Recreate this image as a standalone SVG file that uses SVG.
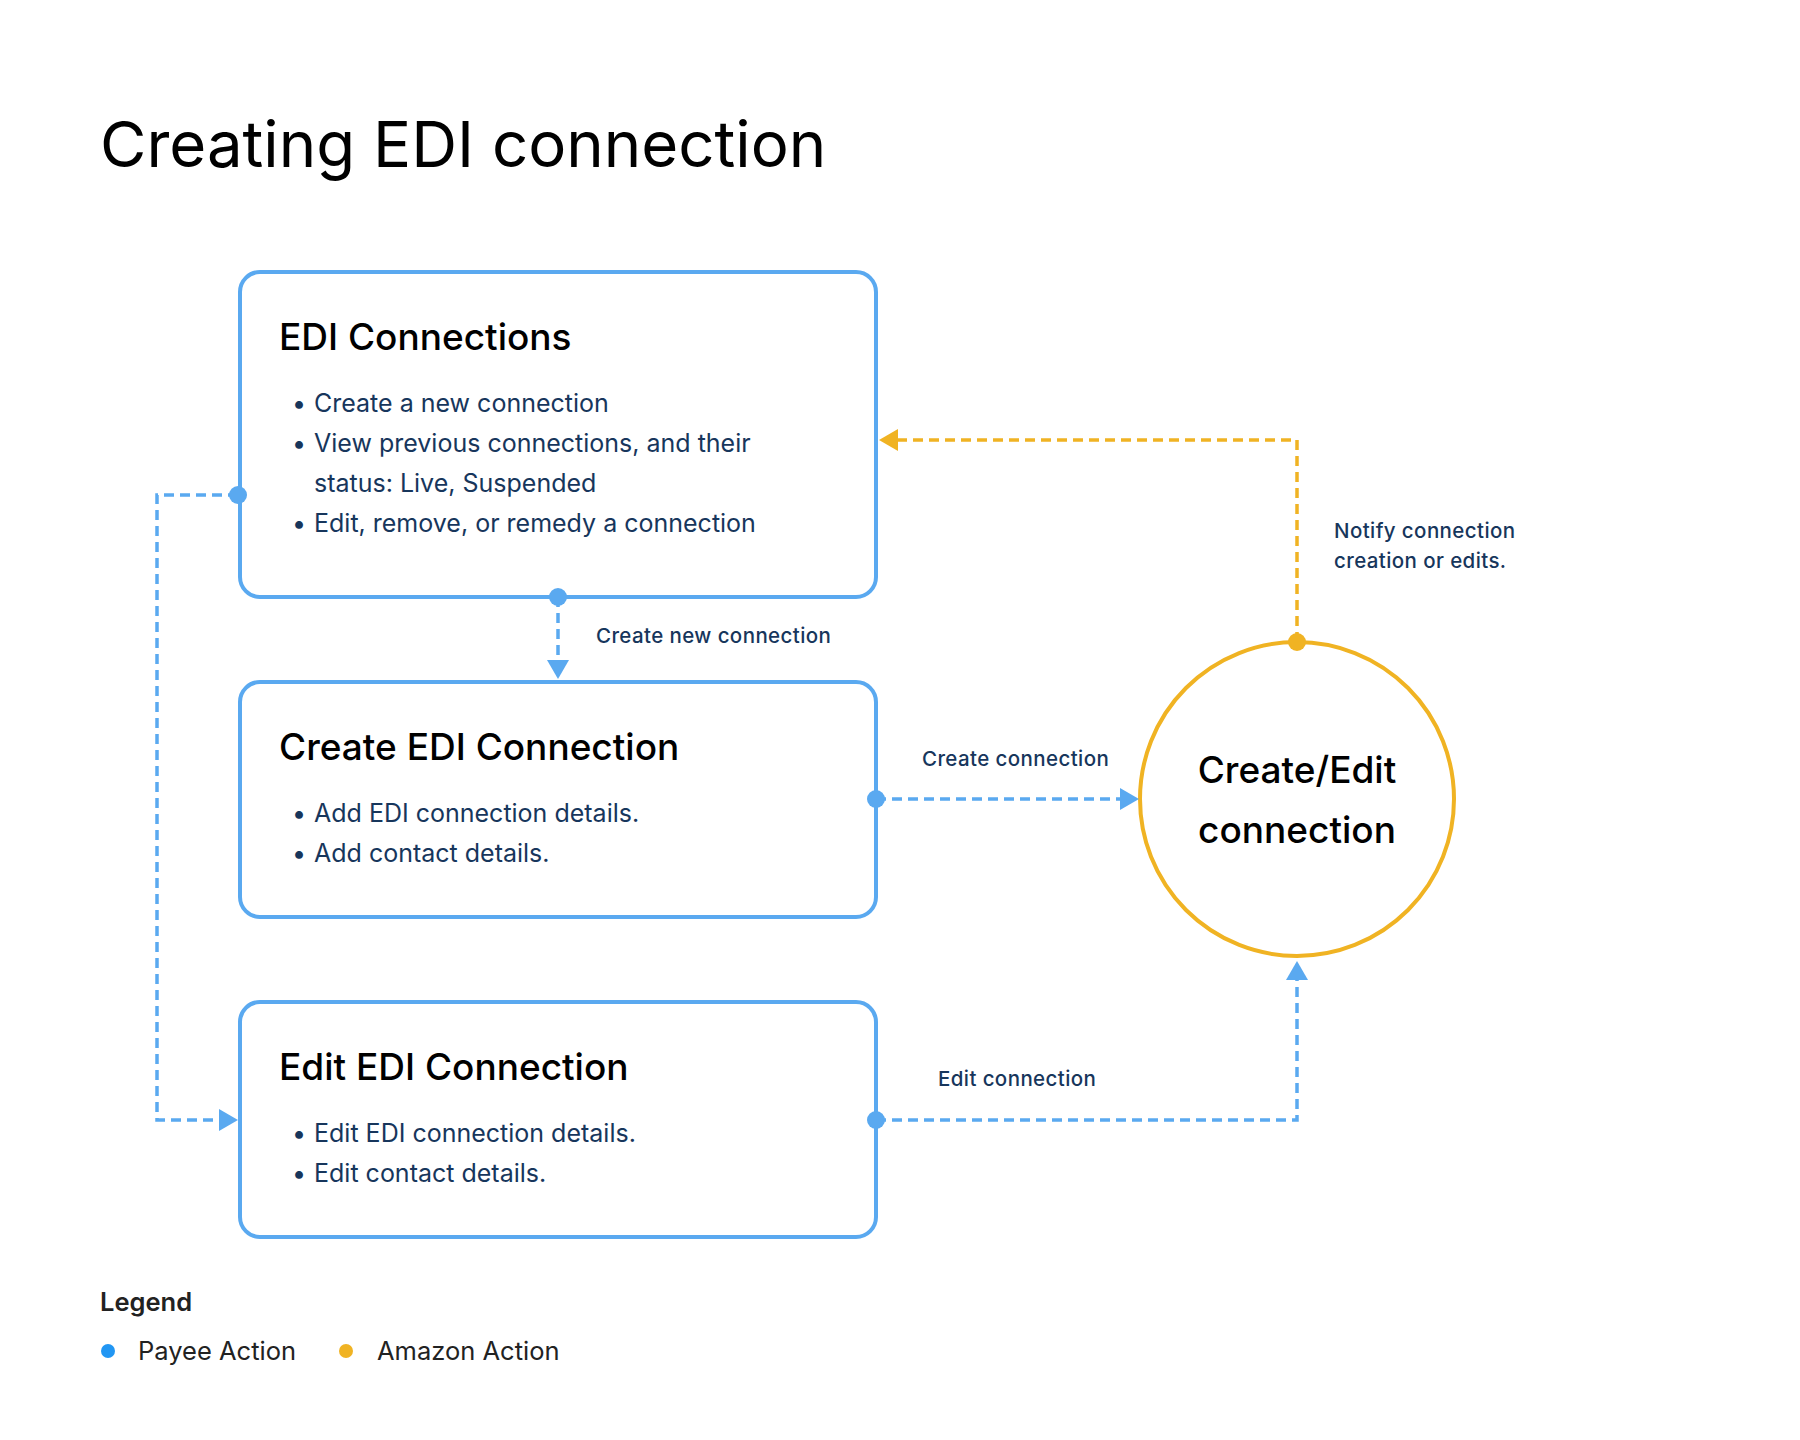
<svg xmlns="http://www.w3.org/2000/svg" width="1800" height="1440" viewBox="0 0 1800 1440">
<style>
.box{fill:#fff;stroke:#5AA9F0;stroke-width:4}
.circ{fill:#fff;stroke:#F0B323;stroke-width:4}
.title{font-family:Inter,"Noto Sans",sans-serif;font-size:63.5px;fill:#000}
.h{font-family:Inter,"Noto Sans",sans-serif;font-size:37px;font-weight:500;fill:#000}
.b{font-family:Inter,"Noto Sans",sans-serif;font-size:25px;fill:#17365C}
.lbl{font-family:Inter,"Noto Sans",sans-serif;font-size:20.5px;letter-spacing:0.4px;font-weight:500;fill:#17365C}
.leg{font-family:Inter,"Noto Sans",sans-serif;font-size:25.5px;fill:#222}
.blue{fill:none;stroke:#5AA9F0;stroke-width:3.5;stroke-dasharray:10 6}
.yel{fill:none;stroke:#F0B323;stroke-width:3.5;stroke-dasharray:10 6}
.bd{fill:#5AA9F0}
.yd{fill:#F0B323}
</style>
<rect width="1800" height="1440" fill="#fff"/>
<text class="title" x="100" y="167">Creating EDI connection</text>

<g id="edi-connections">
<rect class="box" x="240" y="272" width="636" height="325" rx="20"/>
<text class="h" x="279" y="350">EDI Connections</text>
<g class="b">
<text x="292" y="412">•</text><text x="314" y="412">Create a new connection</text>
<text x="292" y="452">•</text><text x="314" y="452">View previous connections, and their</text>
<text x="314" y="492">status: Live, Suspended</text>
<text x="292" y="532">•</text><text x="314" y="532">Edit, remove, or remedy a connection</text>
</g>
</g>

<g id="create-edi-connection">
<rect class="box" x="240" y="682" width="636" height="235" rx="20"/>
<text class="h" x="279" y="760">Create EDI Connection</text>
<g class="b">
<text x="292" y="822">•</text><text x="314" y="822">Add EDI connection details.</text>
<text x="292" y="862">•</text><text x="314" y="862">Add contact details.</text>
</g>
</g>

<g id="edit-edi-connection">
<rect class="box" x="240" y="1002" width="636" height="235" rx="20"/>
<text class="h" x="279" y="1080">Edit EDI Connection</text>
<g class="b">
<text x="292" y="1142">•</text><text x="314" y="1142">Edit EDI connection details.</text>
<text x="292" y="1182">•</text><text x="314" y="1182">Edit contact details.</text>
</g>
</g>

<g id="create-edit-connection">
<circle class="circ" cx="1297" cy="799" r="157"/>
<text class="h" x="1297" y="783" text-anchor="middle">Create/Edit</text>
<text class="h" x="1297" y="843" text-anchor="middle">connection</text>
</g>

<g id="connectors">
<path class="blue" d="M558 597 V662"/>
<polygon class="bd" points="547,660 569,660 558,679"/>
<circle class="bd" cx="558" cy="597" r="9"/>
<text class="lbl" x="596" y="643">Create new connection</text>

<path class="blue" d="M238 495 H157 V1120 H222"/>
<polygon class="bd" points="219,1109 219,1131 238,1120"/>
<circle class="bd" cx="238" cy="495" r="9"/>

<path class="blue" d="M876 799 H1122"/>
<polygon class="bd" points="1120,788 1120,810 1139,799"/>
<circle class="bd" cx="876" cy="799" r="9"/>
<text class="lbl" x="922" y="766">Create connection</text>

<path class="blue" d="M876 1120 H1297 V978"/>
<polygon class="bd" points="1286,980 1308,980 1297,961"/>
<circle class="bd" cx="876" cy="1120" r="9"/>
<text class="lbl" x="938" y="1086">Edit connection</text>

<path class="yel" d="M1297 642 V440 H896"/>
<polygon class="yd" points="898,429 898,451 879,440"/>
<circle class="yd" cx="1297" cy="642" r="9"/>
<text class="lbl" x="1334" y="538">Notify connection</text>
<text class="lbl" x="1334" y="568">creation or edits.</text>
</g>

<g id="legend">
<text class="leg" x="100" y="1311" font-weight="600" font-size="24">Legend</text>
<circle cx="108" cy="1351" r="7" fill="#2196F3"/>
<text class="leg" x="138" y="1360">Payee Action</text>
<circle cx="346" cy="1351" r="7" fill="#F0B323"/>
<text class="leg" x="377" y="1360">Amazon Action</text>
</g>
</svg>
